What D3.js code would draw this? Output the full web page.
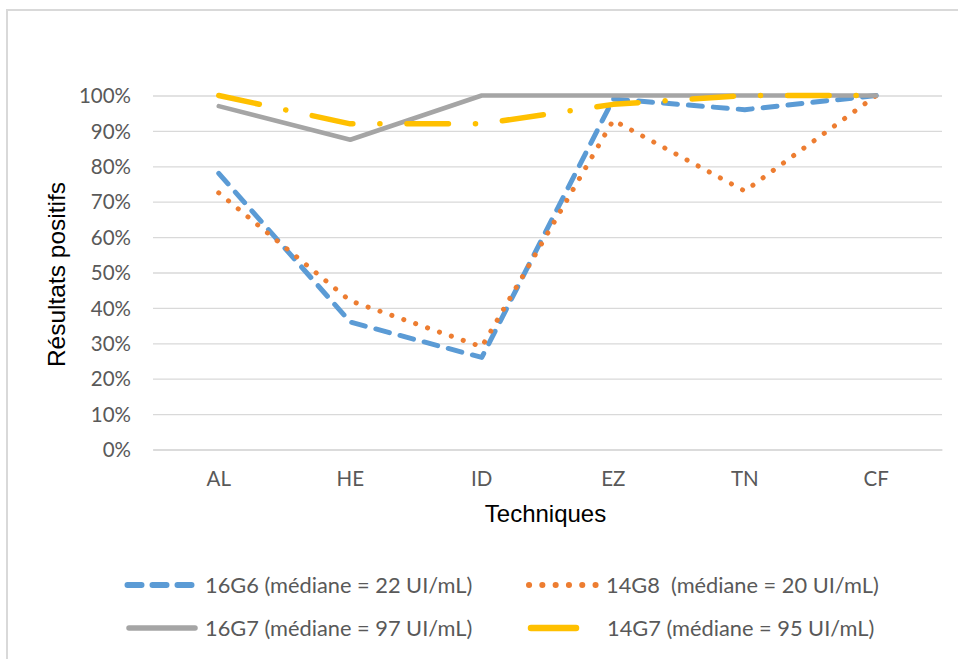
<!DOCTYPE html>
<html>
<head>
<meta charset="utf-8">
<script src="https://cdn.jsdelivr.net/npm/d3@7"></script>
<style>
  html, body { margin: 0; padding: 0; background: #ffffff; }
  svg { display: block; }
</style>
</head>
<body>
<div id="chart"></div>
<script>
// Categories (techniques) on the x axis
const categories = ["AL", "HE", "ID", "EZ", "TN", "CF"];

// Share of positive results per technique, in percent
const values16G6 = [78, 36, 26, 99, 96, 100];
const values14G8 = [72.5, 42, 29, 93, 73, 100];
const values16G7 = [97, 87.5, 100, 100, 100, 100];
const values14G7 = [100, 92, 92, 97.5, 100, 100];

// Legend labels
const seriesNames = [
  "16G6 (médiane = 22 UI/mL)",
  "14G8  (médiane = 20 UI/mL)",
  "16G7 (médiane = 97 UI/mL)",
  "14G7 (médiane = 95 UI/mL)"
];

// Y axis ticks
const yTicks = [0, 10, 20, 30, 40, 50, 60, 70, 80, 90, 100];

const W = 958, H = 659;
const plot = { left: 153, right: 942, top: 95.5, bottom: 449.5 };

const svg = d3.select("#chart").append("svg")
  .attr("width", W).attr("height", H);

// Chart area frame
svg.append("rect")
  .attr("x", 7).attr("y", 10)
  .attr("width", W + 20).attr("height", H + 20)
  .attr("fill", "#ffffff")
  .attr("stroke", "#d9d9d9").attr("stroke-width", 2);

const x = d3.scaleBand().domain(categories)
  .range([plot.left, plot.right]).paddingInner(0).paddingOuter(0);
const y = d3.scaleLinear().domain([0, 100]).range([plot.bottom, plot.top]);
const cx = c => x(c) + x.bandwidth() / 2;

const labelFont = "Lato, 'Open Sans', sans-serif";
const titleFont = "'Liberation Sans', Arial, sans-serif";

// Horizontal gridlines and y tick labels
const yAxis = d3.axisLeft(y).tickValues(yTicks)
  .tickFormat(d => d + "%")
  .tickSize(-(plot.right - plot.left)).tickPadding(22);
const gy = svg.append("g").attr("transform", `translate(${plot.left},0)`).call(yAxis);
gy.select(".domain").remove();
gy.selectAll(".tick line").attr("stroke", "#d9d9d9").attr("stroke-width", 1.3);
gy.selectAll(".tick text")
  .attr("font-family", labelFont).attr("font-size", 20.5)
  .attr("fill", "#595959").attr("dy", "0.35em");

// Category axis labels
const xAxis = d3.axisBottom(x).tickSize(0).tickPadding(22);
const gx = svg.append("g").attr("transform", `translate(0,${plot.bottom})`).call(xAxis);
gx.select(".domain").attr("stroke", "#d9d9d9").attr("stroke-width", 1.5);
gx.selectAll(".tick text")
  .attr("font-family", labelFont).attr("font-size", 20.5)
  .attr("fill", "#595959");

// Axis titles
svg.append("text")
  .attr("x", (plot.left + plot.right) / 2 - 2).attr("y", 522)
  .attr("text-anchor", "middle")
  .attr("font-family", titleFont).attr("font-size", 24)
  .attr("fill", "#000").text("Techniques");

svg.append("text")
  .attr("transform", `translate(65,${(plot.top + plot.bottom) / 2 + 2}) rotate(-90)`)
  .attr("text-anchor", "middle")
  .attr("font-family", titleFont).attr("font-size", 24.5)
  .attr("fill", "#000").text("Résultats positifs");

// Series styling
const series = [
  { name: seriesNames[0], values: values16G6, color: "#5b9bd5", width: 5,   dash: "14 11",          legendDash: "14 11" },
  { name: seriesNames[1], values: values14G8, color: "#ed7d31", width: 5,   dash: "0.1 12.5",       legendDash: "0.1 13.2" },
  { name: seriesNames[2], values: values16G7, color: "#a5a5a5", width: 4.5, dash: null,             legendDash: null },
  { name: seriesNames[3], values: values14G7, color: "#ffc000", width: 5.5, dash: "41.5 27 0.1 27", legendDash: null }
];

const line = d3.line()
  .x((d, i) => cx(categories[i]))
  .y(d => y(d));

series.forEach(s => {
  svg.append("path")
    .datum(s.values)
    .attr("d", line)
    .attr("fill", "none")
    .attr("stroke", s.color)
    .attr("stroke-width", s.width)
    .attr("stroke-linecap", "round")
    .attr("stroke-linejoin", "round")
    .attr("stroke-dasharray", s.dash);
});

// Legend: two columns, two rows
const legendPos = [
  { x1: 127.5, x2: 192, tx: 205, y: 585 },
  { x1: 529,   x2: 596, tx: 606, y: 585 },
  { x1: 129,   x2: 195, tx: 205, y: 628 },
  { x1: 531,   x2: 576, tx: 607, y: 628 }
];

series.forEach((s, i) => {
  const p = legendPos[i];
  const g = svg.append("g");
  g.append("line")
    .attr("x1", p.x1).attr("x2", p.x2)
    .attr("y1", p.y).attr("y2", p.y)
    .attr("stroke", s.color)
    .attr("stroke-width", s.width + 1)
    .attr("stroke-linecap", "round")
    .attr("stroke-dasharray", s.legendDash);
  g.append("text")
    .attr("x", p.tx).attr("y", p.y).attr("dy", "0.35em")
    .attr("font-family", labelFont).attr("font-size", 21.8)
    .attr("fill", "#595959")
    .attr("xml:space", "preserve")
    .style("white-space", "pre")
    .text(s.name);
});
</script>
</body>
</html>
